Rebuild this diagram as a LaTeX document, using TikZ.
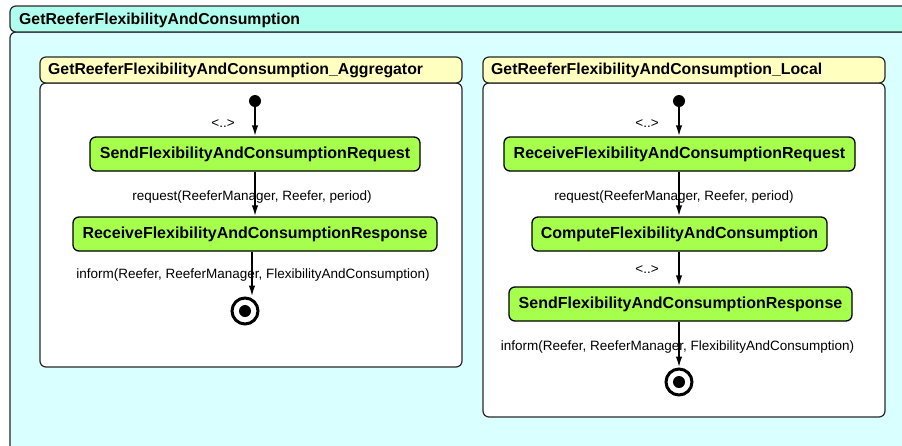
\documentclass[tikz,border=0pt]{standalone}
\usepackage{fontspec}
\setmainfont{Liberation Sans}
\usetikzlibrary{arrows.meta}
\definecolor{outerhead}{RGB}{176,255,238}
\definecolor{outerbody}{RGB}{218,255,255}
\definecolor{innerhead}{RGB}{255,255,192}
\definecolor{nodegreen}{RGB}{166,255,77}
\definecolor{framegray}{RGB}{40,40,40}
\tikzset{
  frameline/.style={draw=framegray, line width=1.2pt, rounded corners=6pt},
  titletext/.style={anchor=west, inner sep=0pt, font=\fontsize{15.8}{18}\bfseries\selectfont},
  actbox/.style={draw=black, line width=1.3pt, rounded corners=6pt, fill=nodegreen, minimum height=34pt, inner sep=0pt, font=\fontsize{16}{18}\bfseries\selectfont},
  edgelabel/.style={inner sep=0pt, font=\fontsize{13.5}{16}\selectfont},
  initdot/.style={circle, fill=black, minimum size=12pt, inner sep=0pt},
  finring/.style={circle, draw=black, line width=3pt, minimum size=26pt, inner sep=0pt, fill=white},
  findot/.style={circle, fill=black, minimum size=12pt, inner sep=0pt},
  flow/.style={draw=black, line width=1.8pt, -{Latex[length=11pt,width=6.5pt]}}
}
\begin{document}
\begin{tikzpicture}[x=1pt,y=-1pt]
\useasboundingbox (0,0) rectangle (902,445);
\clip (0,0) rectangle (902,445);
% outer frame
\path[frameline, fill=outerbody] (10,32) rectangle (930,470);
\path[frameline, fill=outerhead] (10,6) rectangle (930,32);
\node[titletext] (outertitle) at (19,20) {GetReeferFlexibilityAndConsumption};
% left inner frame
\path[frameline, fill=white] (40,83) rectangle (462,367);
\path[frameline, fill=innerhead] (40,57) rectangle (462,83);
\node[titletext] (lefttitle) at (48,70.5) {GetReeferFlexibilityAndConsumption\_Aggregator};
% right inner frame
\path[frameline, fill=white] (483,83) rectangle (885,417);
\path[frameline, fill=innerhead] (483,57) rectangle (885,83);
\node[titletext] (righttitle) at (491,70.5) {GetReeferFlexibilityAndConsumption\_Local};

% left diagram
\node[initdot] (li) at (255,101) {};
\node[actbox, minimum width=330pt] (ls) at (255,154) {SendFlexibilityAndConsumptionRequest};
\node[actbox, minimum width=364pt] (lr) at (255,234) {ReceiveFlexibilityAndConsumptionResponse};
\node[finring] (lf) at (245,311) {};
\node[findot] (lfd) at (lf.center) {};
\node[edgelabel] (ll0) at (223,124) {<..>};
\node[edgelabel] (ll1) at (252,197) {request(ReeferManager, Reefer, period)};
\node[edgelabel] (ll2) at (253,275) {inform(Reefer, ReeferManager, FlexibilityAndConsumption)};
\draw[flow] (li) -- (ls);
\draw[flow] (ls) -- (lr);
\draw[flow] ([xshift=-3pt]lr.south) -- ([xshift=-3pt]lr.south |- lf.north);

% right diagram
\node[initdot] (ri) at (679,101) {};
\node[actbox, minimum width=351pt] (rr) at (679.5,154) {ReceiveFlexibilityAndConsumptionRequest};
\node[actbox, minimum width=295pt] (rc) at (679.5,234) {ComputeFlexibilityAndConsumption};
\node[actbox, minimum width=343pt] (rs) at (680.5,304) {SendFlexibilityAndConsumptionResponse};
\node[finring] (rf) at (679,382) {};
\node[findot] (rfd) at (rf.center) {};
\node[edgelabel] (rl0) at (647,124) {<..>};
\node[edgelabel] (rl1) at (674,197) {request(ReeferManager, Reefer, period)};
\node[edgelabel] (rl2) at (647,270) {<..>};
\node[edgelabel] (rl3) at (677.5,347) {inform(Reefer, ReeferManager, FlexibilityAndConsumption)};
\draw[flow] (ri) -- (ri |- rr.north);
\draw[flow] (ri |- rr.south) -- (ri |- rc.north);
\draw[flow] (ri |- rc.south) -- (ri |- rs.north);
\draw[flow] (ri |- rs.south) -- (rf.north);
\end{tikzpicture}
\end{document}
